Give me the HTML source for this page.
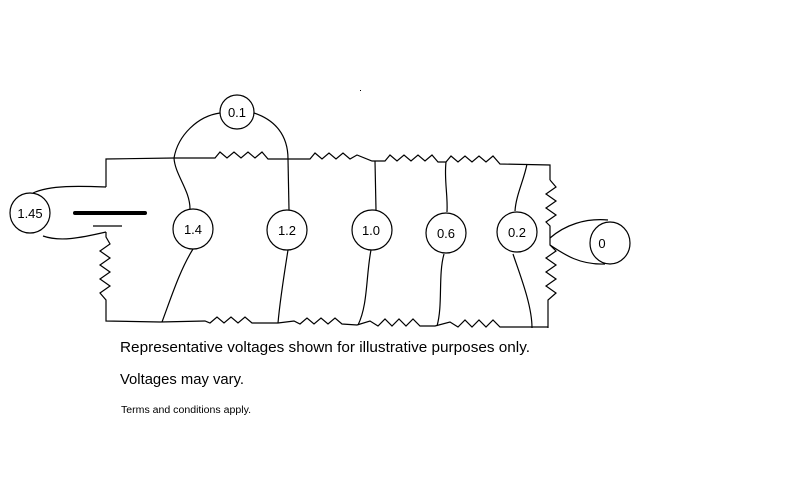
<!DOCTYPE html>
<html><head><meta charset="utf-8"><style>
html,body{margin:0;padding:0;background:#fff;width:800px;height:500px;overflow:hidden}
svg{display:block}
text{font-family:"Comic Sans MS","Liberation Sans",sans-serif;fill:#000}
</style></head><body>
<svg width="800" height="500" viewBox="0 0 800 500" xmlns="http://www.w3.org/2000/svg">
<g fill="none" stroke="#000" stroke-width="1.2">
<!-- top wire -->
<path d="M106 187 L106 159 L174 158 L215 158 L220 152 L227 158 L234 152 L241 158 L248 152 L255 158 L262 152 L268 159 L310 159 L315 153 L322 159 L329 153 L336 159 L343 153 L350 159 L357 155 L372 161 L385 161 L390 155 L397 161 L404 155 L411 161 L418 155 L425 161 L432 155 L438 162 L446 162 L451 156 L458 162 L465 156 L472 162 L479 156 L486 162 L493 156 L500 164 L550 165 L550 180"/>
<!-- right resistor stack -->
<path d="M550 180 L556 187 L546 194 L556 201 L546 208 L556 215 L546 222 L550 226 L550 245 L556 251 L546 258 L556 265 L546 272 L556 279 L546 286 L556 293 L548 300 L548 328"/>
<!-- bottom wire -->
<path d="M548 327 L500 327 L493 320 L486 327 L479 320 L472 327 L465 320 L458 327 L450 322 L435 326 L420 326 L413 319 L406 326 L399 319 L392 326 L385 319 L378 326 L370 321 L357 325 L342 324 L335 318 L328 324 L321 318 L314 324 L307 318 L300 324 L294 321 L278 323 L252 323 L245 317 L238 323 L231 317 L224 323 L217 317 L210 323 L205 321 L160 322 L106 321 L106 300 L100 293 L110 286 L100 279 L110 272 L100 265 L110 258 L100 251 L110 244 L106 237 L106 232"/>
<!-- battery -->
<path d="M93 226 L122 226"/>
<!-- 1.45 leads -->
<path d="M33 193 C50 185 80 186 106 187"/>
<path d="M43 236 C60 242 80 238 106 232"/>
<!-- 0.1 arc -->
<path d="M174 158 C178 135 198 116 220 113"/>
<path d="M254 113 C275 120 288 135 288 159"/>
<!-- 1.4 -->
<path d="M174 158 C175 175 190 190 190 209"/>
<path d="M193 249 C180 270 172 295 162 322"/>
<!-- 1.2 -->
<path d="M288 159 L289 210"/>
<path d="M288 250 C284 275 280 300 278 323"/>
<!-- 1.0 -->
<path d="M375 161 L376 210"/>
<path d="M371 250 C366 275 368 305 358 325"/>
<!-- 0.6 -->
<path d="M446 162 C444 180 448 195 447 212"/>
<path d="M444 254 C438 275 443 305 437 326"/>
<!-- 0.2 -->
<path d="M527 164 C524 180 516 195 515 211"/>
<path d="M513 254 C520 275 532 305 532 328"/>
<!-- 0 leads -->
<path d="M550 238 C565 225 585 218 608 220"/>
<path d="M550 245 C565 255 580 265 605 264"/>
<!-- circles -->
<circle cx="30" cy="213" r="20"/>
<circle cx="237" cy="112" r="17"/>
<circle cx="193" cy="229" r="20"/>
<circle cx="287" cy="230" r="20"/>
<circle cx="372" cy="230" r="20"/>
<circle cx="446" cy="233" r="20"/>
<circle cx="517" cy="232" r="20"/>
<ellipse cx="610" cy="243" rx="20" ry="21"/>
</g>
<path d="M75 213 L145 213" stroke="#000" stroke-width="4" stroke-linecap="round"/>
<rect x="360" y="90" width="1" height="1" fill="#000"/>
<g font-size="13" text-anchor="middle">
<text x="30" y="218">1.45</text>
<text x="237" y="117">0.1</text>
<text x="193" y="234">1.4</text>
<text x="287" y="235">1.2</text>
<text x="371" y="235">1.0</text>
<text x="446" y="238">0.6</text>
<text x="517" y="237">0.2</text>
<text x="602" y="248">0</text>
</g>
<text x="120" y="352" font-size="15" textLength="410" lengthAdjust="spacingAndGlyphs">Representative voltages shown for illustrative purposes only.</text>
<text x="120" y="384" font-size="15" textLength="124" lengthAdjust="spacingAndGlyphs">Voltages may vary.</text>
<text x="121" y="413" font-size="10" textLength="130" lengthAdjust="spacingAndGlyphs">Terms and conditions apply.</text>
</svg>
</body></html>
